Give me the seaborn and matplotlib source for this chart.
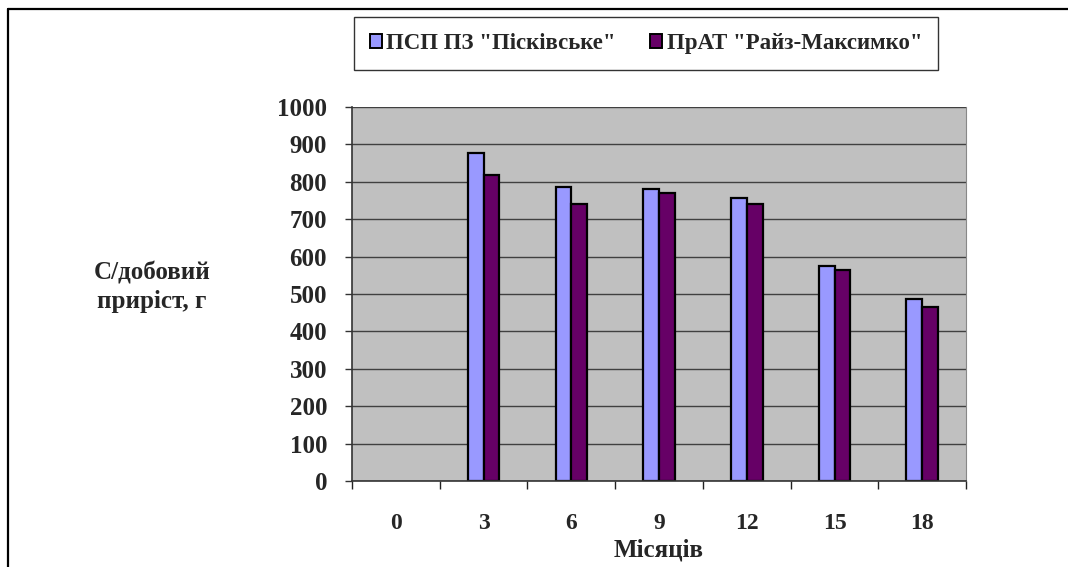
import pandas as pd
import matplotlib
matplotlib.use("Agg")
from matplotlib import pyplot as plt
from matplotlib.patches import Rectangle
from matplotlib.lines import Line2D
import seaborn as sns

months = ["0", "3", "6", "9", "12", "15", "18"]
piskivske = [0, 876, 787, 780, 757, 576, 487]
raiz_maksymko = [0, 818, 741, 771, 741, 564, 466]
series_names = ['ПСП ПЗ "Пісківське"', 'ПрАТ "Райз-Максимко"']

df = pd.DataFrame({
    "month": months * 2,
    "gain": piskivske + raiz_maksymko,
    "farm": [series_names[0]] * len(months) + [series_names[1]] * len(months),
})

sns.set_style("white")
plt.rcParams["font.family"] = ["Liberation Serif", "DejaVu Serif"]
plt.rcParams["font.weight"] = "bold"

fig = plt.figure(figsize=(10.68, 5.67), dpi=100)
ax = fig.add_axes([0.3296, 0.1517, 0.575, 0.6596])
ax.set_facecolor("#C0C0C0")

sns.barplot(data=df, x="month", y="gain", hue="farm", order=months,
            palette=["#9999FF", "#660066"], width=0.36, edgecolor="black",
            linewidth=1.6, saturation=1, ax=ax, legend=False)
# no visible bars where the value is zero
for p in ax.patches:
    if p.get_height() == 0:
        p.set_visible(False)

ax.set_ylim(0, 1000)
ax.set_xlim(-0.5, len(months) - 0.5)
ax.set_yticks(range(0, 1001, 100))
ax.tick_params(axis="y", length=5, width=1, direction="out", left=True,
               labelsize=18, pad=13, color="#333333")
ax.grid(axis="y", color="#404040", linewidth=1)
ax.set_axisbelow(True)

ax.set_xticks(range(len(months)))
ax.set_xticklabels(months, fontsize=17, fontweight="bold")
ax.tick_params(axis="x", length=0, pad=23)
ax.set_xticks([i - 0.5 for i in range(len(months) + 1)], minor=True)
ax.tick_params(axis="x", which="minor", length=6, width=1, direction="out",
               bottom=True, color="#222222")
for lab in ax.get_yticklabels():
    lab.set_fontweight("bold")

for side in ["left", "bottom"]:
    ax.spines[side].set_color("#333333")
    ax.spines[side].set_linewidth(1.2)
ax.spines["right"].set_color("#888888")
ax.spines["top"].set_visible(False)

ax.set_xlabel("Місяців", fontsize=18, fontweight="bold", labelpad=3)
ax.set_ylabel("")
fig.text(0.142, 0.493, "С/добовий\nприріст, г", fontsize=18, fontweight="bold",
         ha="center", va="center", linespacing=1.3)

handles = [Rectangle((0, 0), 1, 1, facecolor=c, edgecolor="black", linewidth=1.4)
           for c in ["#9999FF", "#660066"]]
leg = fig.legend(handles, series_names, loc="center", bbox_to_anchor=(0.605, 0.923),
                 ncol=2, frameon=True, fancybox=False, fontsize=16.5,
                 handlelength=0.52, handleheight=0.52, handletextpad=0.2,
                 columnspacing=1.5, borderpad=0.7, borderaxespad=0,
                 edgecolor="black")
leg.get_frame().set_linewidth(1.0)
for t in leg.get_texts():
    t.set_fontweight("bold")

# outer chart frame: only the left and top edges fall inside the picture
fig.lines.append(Line2D([8 / 1068, 8 / 1068], [0, 1 - 9 / 567], transform=fig.transFigure,
                        color="black", linewidth=1.6))
fig.lines.append(Line2D([8 / 1068, 1], [1 - 9 / 567, 1 - 9 / 567], transform=fig.transFigure,
                        color="black", linewidth=1.6))

fig.savefig("out.png", dpi=100)
